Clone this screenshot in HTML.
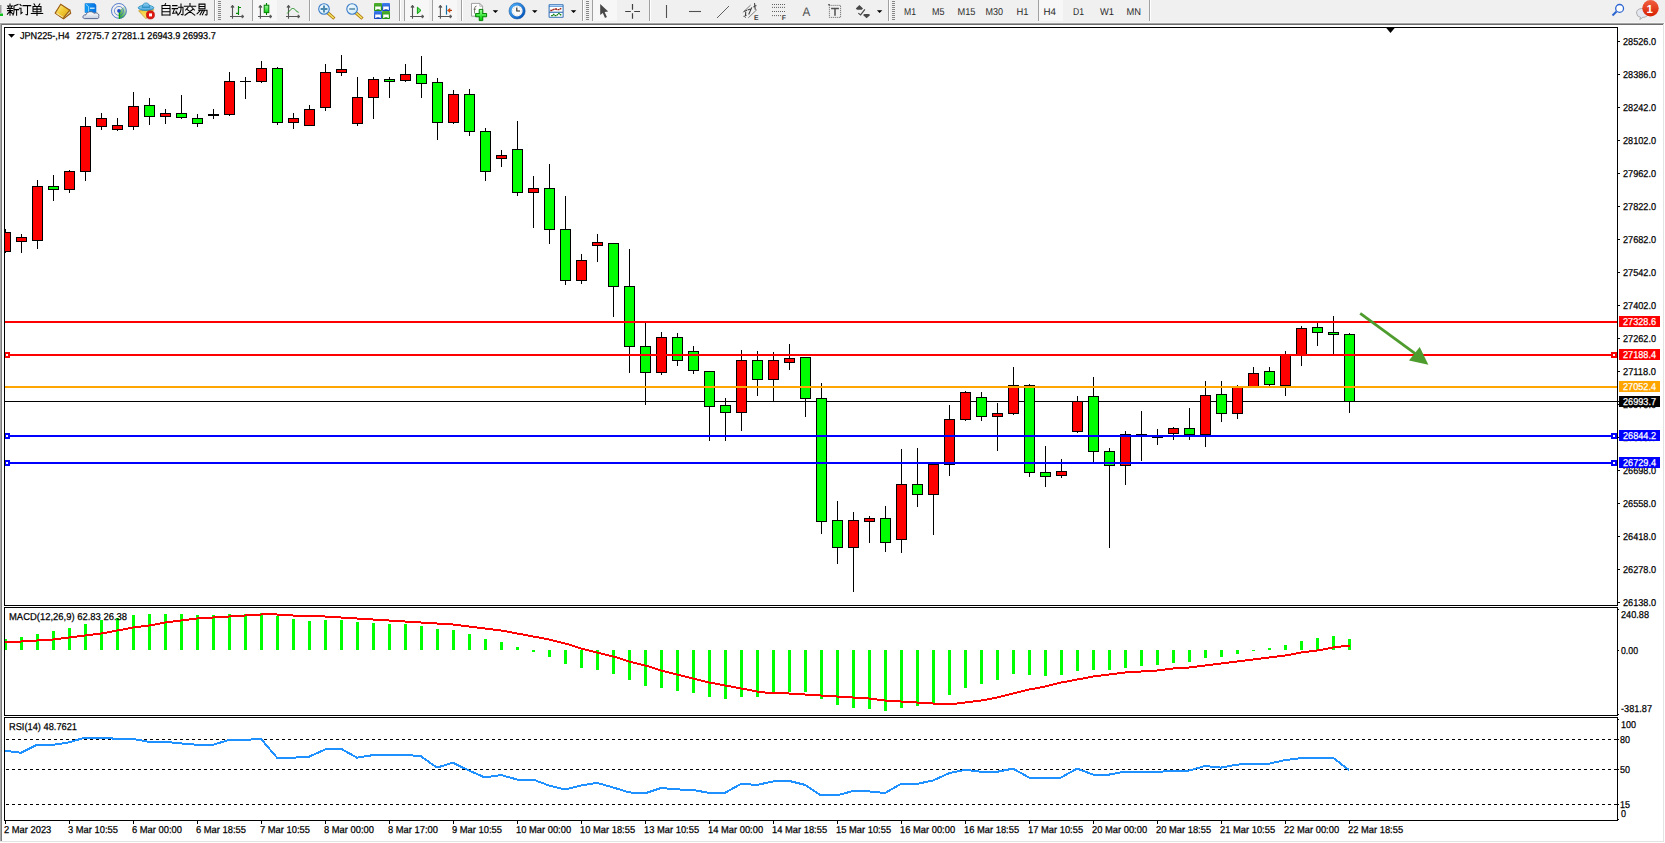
<!DOCTYPE html>
<html><head><meta charset="utf-8"><title>MT4</title>
<style>
html,body{margin:0;padding:0;background:#fff;overflow:hidden;}
svg{display:block;}
text.t{stroke-width:0.3px;}
</style></head>
<body>
<svg width="1665" height="843" viewBox="0 0 1665 843" shape-rendering="crispEdges" text-rendering="geometricPrecision">
<rect x="0" y="0" width="1665" height="23" fill="#f0f0f0"/>
<rect x="0" y="22" width="1665" height="1" fill="#f6f6f6"/>
<rect x="0" y="23" width="1664" height="1" fill="#a3a3a3"/>
<rect x="0" y="24" width="1664" height="1" fill="#6d6d6d"/>
<rect x="0" y="25" width="1665" height="818" fill="#ffffff"/>
<rect x="0" y="23" width="1" height="818" fill="#a8a8a8"/>
<rect x="1" y="24" width="1" height="817" fill="#7a7a7a"/>
<rect x="1663" y="24" width="1" height="818" fill="#e3e3e3"/>
<rect x="0" y="841" width="1664" height="1" fill="#e3e3e3"/>
<defs><clipPath id="cm"><rect x="5" y="28" width="1612" height="577"/></clipPath><clipPath id="cmacd"><rect x="5" y="608" width="1612" height="107"/></clipPath><clipPath id="crsi"><rect x="5" y="718" width="1612" height="102"/></clipPath></defs>
<g clip-path="url(#cm)">
</g>
<rect x="5" y="401" width="1614" height="1" fill="#000"/>
<g clip-path="url(#cm)">
<rect x="5" y="229" width="1" height="24" fill="#000"/>
<rect x="0" y="232" width="11" height="20" fill="#000"/>
<rect x="1" y="233" width="9" height="18" fill="#ff0000"/>
<rect x="21" y="234" width="1" height="19" fill="#000"/>
<rect x="16" y="237" width="11" height="5" fill="#000"/>
<rect x="17" y="238" width="9" height="3" fill="#ff0000"/>
<rect x="37" y="180" width="1" height="69" fill="#000"/>
<rect x="32" y="186" width="11" height="55" fill="#000"/>
<rect x="33" y="187" width="9" height="53" fill="#ff0000"/>
<rect x="53" y="175" width="1" height="26" fill="#000"/>
<rect x="48" y="186" width="11" height="4" fill="#000"/>
<rect x="49" y="187" width="9" height="2" fill="#00ff00"/>
<rect x="69" y="170" width="1" height="23" fill="#000"/>
<rect x="64" y="171" width="11" height="19" fill="#000"/>
<rect x="65" y="172" width="9" height="17" fill="#ff0000"/>
<rect x="85" y="117" width="1" height="64" fill="#000"/>
<rect x="80" y="126" width="11" height="46" fill="#000"/>
<rect x="81" y="127" width="9" height="44" fill="#ff0000"/>
<rect x="101" y="113" width="1" height="17" fill="#000"/>
<rect x="96" y="118" width="11" height="9" fill="#000"/>
<rect x="97" y="119" width="9" height="7" fill="#ff0000"/>
<rect x="117" y="118" width="1" height="13" fill="#000"/>
<rect x="112" y="125" width="11" height="5" fill="#000"/>
<rect x="113" y="126" width="9" height="3" fill="#ff0000"/>
<rect x="133" y="92" width="1" height="38" fill="#000"/>
<rect x="128" y="106" width="11" height="21" fill="#000"/>
<rect x="129" y="107" width="9" height="19" fill="#ff0000"/>
<rect x="149" y="98" width="1" height="27" fill="#000"/>
<rect x="144" y="105" width="11" height="12" fill="#000"/>
<rect x="145" y="106" width="9" height="10" fill="#00ff00"/>
<rect x="165" y="109" width="1" height="15" fill="#000"/>
<rect x="160" y="113" width="11" height="4" fill="#000"/>
<rect x="161" y="114" width="9" height="2" fill="#ff0000"/>
<rect x="181" y="95" width="1" height="24" fill="#000"/>
<rect x="176" y="113" width="11" height="5" fill="#000"/>
<rect x="177" y="114" width="9" height="3" fill="#00ff00"/>
<rect x="197" y="114" width="1" height="13" fill="#000"/>
<rect x="192" y="118" width="11" height="6" fill="#000"/>
<rect x="193" y="119" width="9" height="4" fill="#00ff00"/>
<rect x="213" y="109" width="1" height="10" fill="#000"/>
<rect x="208" y="114" width="11" height="2" fill="#000"/>
<rect x="229" y="72" width="1" height="44" fill="#000"/>
<rect x="224" y="81" width="11" height="34" fill="#000"/>
<rect x="225" y="82" width="9" height="32" fill="#ff0000"/>
<rect x="245" y="77" width="1" height="22" fill="#000"/>
<rect x="240" y="81" width="11" height="1" fill="#000"/>
<rect x="261" y="61" width="1" height="22" fill="#000"/>
<rect x="256" y="68" width="11" height="14" fill="#000"/>
<rect x="257" y="69" width="9" height="12" fill="#ff0000"/>
<rect x="277" y="67" width="1" height="58" fill="#000"/>
<rect x="272" y="68" width="11" height="55" fill="#000"/>
<rect x="273" y="69" width="9" height="53" fill="#00ff00"/>
<rect x="293" y="113" width="1" height="16" fill="#000"/>
<rect x="288" y="118" width="11" height="5" fill="#000"/>
<rect x="289" y="119" width="9" height="3" fill="#ff0000"/>
<rect x="309" y="105" width="1" height="21" fill="#000"/>
<rect x="304" y="109" width="11" height="17" fill="#000"/>
<rect x="305" y="110" width="9" height="15" fill="#ff0000"/>
<rect x="325" y="64" width="1" height="47" fill="#000"/>
<rect x="320" y="72" width="11" height="36" fill="#000"/>
<rect x="321" y="73" width="9" height="34" fill="#ff0000"/>
<rect x="341" y="55" width="1" height="21" fill="#000"/>
<rect x="336" y="69" width="11" height="4" fill="#000"/>
<rect x="337" y="70" width="9" height="2" fill="#ff0000"/>
<rect x="357" y="77" width="1" height="49" fill="#000"/>
<rect x="352" y="97" width="11" height="27" fill="#000"/>
<rect x="353" y="98" width="9" height="25" fill="#ff0000"/>
<rect x="373" y="77" width="1" height="42" fill="#000"/>
<rect x="368" y="79" width="11" height="19" fill="#000"/>
<rect x="369" y="80" width="9" height="17" fill="#ff0000"/>
<rect x="389" y="77" width="1" height="21" fill="#000"/>
<rect x="384" y="79" width="11" height="3" fill="#000"/>
<rect x="385" y="80" width="9" height="1" fill="#00ff00"/>
<rect x="405" y="64" width="1" height="18" fill="#000"/>
<rect x="400" y="74" width="11" height="7" fill="#000"/>
<rect x="401" y="75" width="9" height="5" fill="#ff0000"/>
<rect x="421" y="56" width="1" height="42" fill="#000"/>
<rect x="416" y="74" width="11" height="10" fill="#000"/>
<rect x="417" y="75" width="9" height="8" fill="#00ff00"/>
<rect x="437" y="78" width="1" height="62" fill="#000"/>
<rect x="432" y="82" width="11" height="41" fill="#000"/>
<rect x="433" y="83" width="9" height="39" fill="#00ff00"/>
<rect x="453" y="90" width="1" height="34" fill="#000"/>
<rect x="448" y="94" width="11" height="29" fill="#000"/>
<rect x="449" y="95" width="9" height="27" fill="#ff0000"/>
<rect x="469" y="89" width="1" height="47" fill="#000"/>
<rect x="464" y="94" width="11" height="38" fill="#000"/>
<rect x="465" y="95" width="9" height="36" fill="#00ff00"/>
<rect x="485" y="128" width="1" height="53" fill="#000"/>
<rect x="480" y="131" width="11" height="41" fill="#000"/>
<rect x="481" y="132" width="9" height="39" fill="#00ff00"/>
<rect x="501" y="150" width="1" height="17" fill="#000"/>
<rect x="496" y="155" width="11" height="4" fill="#000"/>
<rect x="497" y="156" width="9" height="2" fill="#ff0000"/>
<rect x="517" y="121" width="1" height="75" fill="#000"/>
<rect x="512" y="149" width="11" height="44" fill="#000"/>
<rect x="513" y="150" width="9" height="42" fill="#00ff00"/>
<rect x="533" y="176" width="1" height="52" fill="#000"/>
<rect x="528" y="188" width="11" height="5" fill="#000"/>
<rect x="529" y="189" width="9" height="3" fill="#ff0000"/>
<rect x="549" y="164" width="1" height="80" fill="#000"/>
<rect x="544" y="188" width="11" height="42" fill="#000"/>
<rect x="545" y="189" width="9" height="40" fill="#00ff00"/>
<rect x="565" y="196" width="1" height="89" fill="#000"/>
<rect x="560" y="229" width="11" height="52" fill="#000"/>
<rect x="561" y="230" width="9" height="50" fill="#00ff00"/>
<rect x="581" y="254" width="1" height="30" fill="#000"/>
<rect x="576" y="260" width="11" height="21" fill="#000"/>
<rect x="577" y="261" width="9" height="19" fill="#ff0000"/>
<rect x="597" y="234" width="1" height="28" fill="#000"/>
<rect x="592" y="242" width="11" height="4" fill="#000"/>
<rect x="593" y="243" width="9" height="2" fill="#ff0000"/>
<rect x="613" y="243" width="1" height="74" fill="#000"/>
<rect x="608" y="243" width="11" height="44" fill="#000"/>
<rect x="609" y="244" width="9" height="42" fill="#00ff00"/>
<rect x="629" y="249" width="1" height="124" fill="#000"/>
<rect x="624" y="286" width="11" height="61" fill="#000"/>
<rect x="625" y="287" width="9" height="59" fill="#00ff00"/>
<rect x="645" y="323" width="1" height="82" fill="#000"/>
<rect x="640" y="346" width="11" height="27" fill="#000"/>
<rect x="641" y="347" width="9" height="25" fill="#00ff00"/>
<rect x="661" y="332" width="1" height="43" fill="#000"/>
<rect x="656" y="337" width="11" height="36" fill="#000"/>
<rect x="657" y="338" width="9" height="34" fill="#ff0000"/>
<rect x="677" y="333" width="1" height="33" fill="#000"/>
<rect x="672" y="337" width="11" height="24" fill="#000"/>
<rect x="673" y="338" width="9" height="22" fill="#00ff00"/>
<rect x="693" y="346" width="1" height="28" fill="#000"/>
<rect x="688" y="351" width="11" height="20" fill="#000"/>
<rect x="689" y="352" width="9" height="18" fill="#00ff00"/>
<rect x="709" y="372" width="1" height="69" fill="#000"/>
<rect x="704" y="371" width="11" height="36" fill="#000"/>
<rect x="705" y="372" width="9" height="34" fill="#00ff00"/>
<rect x="725" y="398" width="1" height="43" fill="#000"/>
<rect x="720" y="405" width="11" height="8" fill="#000"/>
<rect x="721" y="406" width="9" height="6" fill="#00ff00"/>
<rect x="741" y="350" width="1" height="81" fill="#000"/>
<rect x="736" y="360" width="11" height="53" fill="#000"/>
<rect x="737" y="361" width="9" height="51" fill="#ff0000"/>
<rect x="757" y="351" width="1" height="45" fill="#000"/>
<rect x="752" y="360" width="11" height="20" fill="#000"/>
<rect x="753" y="361" width="9" height="18" fill="#00ff00"/>
<rect x="773" y="352" width="1" height="49" fill="#000"/>
<rect x="768" y="360" width="11" height="20" fill="#000"/>
<rect x="769" y="361" width="9" height="18" fill="#ff0000"/>
<rect x="789" y="344" width="1" height="26" fill="#000"/>
<rect x="784" y="358" width="11" height="5" fill="#000"/>
<rect x="785" y="359" width="9" height="3" fill="#ff0000"/>
<rect x="805" y="357" width="1" height="60" fill="#000"/>
<rect x="800" y="357" width="11" height="42" fill="#000"/>
<rect x="801" y="358" width="9" height="40" fill="#00ff00"/>
<rect x="821" y="383" width="1" height="151" fill="#000"/>
<rect x="816" y="398" width="11" height="124" fill="#000"/>
<rect x="817" y="399" width="9" height="122" fill="#00ff00"/>
<rect x="837" y="501" width="1" height="63" fill="#000"/>
<rect x="832" y="520" width="11" height="28" fill="#000"/>
<rect x="833" y="521" width="9" height="26" fill="#00ff00"/>
<rect x="853" y="512" width="1" height="80" fill="#000"/>
<rect x="848" y="520" width="11" height="28" fill="#000"/>
<rect x="849" y="521" width="9" height="26" fill="#ff0000"/>
<rect x="869" y="516" width="1" height="27" fill="#000"/>
<rect x="864" y="518" width="11" height="4" fill="#000"/>
<rect x="865" y="519" width="9" height="2" fill="#ff0000"/>
<rect x="885" y="506" width="1" height="46" fill="#000"/>
<rect x="880" y="518" width="11" height="25" fill="#000"/>
<rect x="881" y="519" width="9" height="23" fill="#00ff00"/>
<rect x="901" y="449" width="1" height="104" fill="#000"/>
<rect x="896" y="484" width="11" height="56" fill="#000"/>
<rect x="897" y="485" width="9" height="54" fill="#ff0000"/>
<rect x="917" y="448" width="1" height="59" fill="#000"/>
<rect x="912" y="484" width="11" height="11" fill="#000"/>
<rect x="913" y="485" width="9" height="9" fill="#00ff00"/>
<rect x="933" y="464" width="1" height="71" fill="#000"/>
<rect x="928" y="464" width="11" height="31" fill="#000"/>
<rect x="929" y="465" width="9" height="29" fill="#ff0000"/>
<rect x="949" y="405" width="1" height="71" fill="#000"/>
<rect x="944" y="419" width="11" height="46" fill="#000"/>
<rect x="945" y="420" width="9" height="44" fill="#ff0000"/>
<rect x="965" y="391" width="1" height="30" fill="#000"/>
<rect x="960" y="392" width="11" height="28" fill="#000"/>
<rect x="961" y="393" width="9" height="26" fill="#ff0000"/>
<rect x="981" y="392" width="1" height="29" fill="#000"/>
<rect x="976" y="397" width="11" height="20" fill="#000"/>
<rect x="977" y="398" width="9" height="18" fill="#00ff00"/>
<rect x="997" y="403" width="1" height="48" fill="#000"/>
<rect x="992" y="413" width="11" height="4" fill="#000"/>
<rect x="993" y="414" width="9" height="2" fill="#ff0000"/>
<rect x="1013" y="367" width="1" height="48" fill="#000"/>
<rect x="1008" y="385" width="11" height="29" fill="#000"/>
<rect x="1009" y="386" width="9" height="27" fill="#ff0000"/>
<rect x="1029" y="384" width="1" height="93" fill="#000"/>
<rect x="1024" y="385" width="11" height="88" fill="#000"/>
<rect x="1025" y="386" width="9" height="86" fill="#00ff00"/>
<rect x="1045" y="446" width="1" height="41" fill="#000"/>
<rect x="1040" y="472" width="11" height="5" fill="#000"/>
<rect x="1041" y="473" width="9" height="3" fill="#00ff00"/>
<rect x="1061" y="459" width="1" height="19" fill="#000"/>
<rect x="1056" y="471" width="11" height="5" fill="#000"/>
<rect x="1057" y="472" width="9" height="3" fill="#ff0000"/>
<rect x="1077" y="396" width="1" height="37" fill="#000"/>
<rect x="1072" y="401" width="11" height="31" fill="#000"/>
<rect x="1073" y="402" width="9" height="29" fill="#ff0000"/>
<rect x="1093" y="377" width="1" height="85" fill="#000"/>
<rect x="1088" y="396" width="11" height="56" fill="#000"/>
<rect x="1089" y="397" width="9" height="54" fill="#00ff00"/>
<rect x="1109" y="448" width="1" height="100" fill="#000"/>
<rect x="1104" y="451" width="11" height="15" fill="#000"/>
<rect x="1105" y="452" width="9" height="13" fill="#00ff00"/>
<rect x="1125" y="431" width="1" height="54" fill="#000"/>
<rect x="1120" y="434" width="11" height="32" fill="#000"/>
<rect x="1121" y="435" width="9" height="30" fill="#ff0000"/>
<rect x="1141" y="411" width="1" height="50" fill="#000"/>
<rect x="1136" y="434" width="11" height="1" fill="#000"/>
<rect x="1157" y="429" width="1" height="16" fill="#000"/>
<rect x="1152" y="437" width="11" height="1" fill="#000"/>
<rect x="1173" y="427" width="1" height="13" fill="#000"/>
<rect x="1168" y="428" width="11" height="6" fill="#000"/>
<rect x="1169" y="429" width="9" height="4" fill="#ff0000"/>
<rect x="1189" y="408" width="1" height="32" fill="#000"/>
<rect x="1184" y="428" width="11" height="7" fill="#000"/>
<rect x="1185" y="429" width="9" height="5" fill="#00ff00"/>
<rect x="1205" y="381" width="1" height="66" fill="#000"/>
<rect x="1200" y="395" width="11" height="40" fill="#000"/>
<rect x="1201" y="396" width="9" height="38" fill="#ff0000"/>
<rect x="1221" y="381" width="1" height="41" fill="#000"/>
<rect x="1216" y="394" width="11" height="20" fill="#000"/>
<rect x="1217" y="395" width="9" height="18" fill="#00ff00"/>
<rect x="1237" y="385" width="1" height="34" fill="#000"/>
<rect x="1232" y="387" width="11" height="27" fill="#000"/>
<rect x="1233" y="388" width="9" height="25" fill="#ff0000"/>
<rect x="1253" y="367" width="1" height="19" fill="#000"/>
<rect x="1248" y="373" width="11" height="14" fill="#000"/>
<rect x="1249" y="374" width="9" height="12" fill="#ff0000"/>
<rect x="1269" y="367" width="1" height="19" fill="#000"/>
<rect x="1264" y="371" width="11" height="14" fill="#000"/>
<rect x="1265" y="372" width="9" height="12" fill="#00ff00"/>
<rect x="1285" y="351" width="1" height="45" fill="#000"/>
<rect x="1280" y="355" width="11" height="31" fill="#000"/>
<rect x="1281" y="356" width="9" height="29" fill="#ff0000"/>
<rect x="1301" y="326" width="1" height="40" fill="#000"/>
<rect x="1296" y="328" width="11" height="27" fill="#000"/>
<rect x="1297" y="329" width="9" height="25" fill="#ff0000"/>
<rect x="1317" y="323" width="1" height="23" fill="#000"/>
<rect x="1312" y="327" width="11" height="6" fill="#000"/>
<rect x="1313" y="328" width="9" height="4" fill="#00ff00"/>
<rect x="1333" y="316" width="1" height="38" fill="#000"/>
<rect x="1328" y="332" width="11" height="3" fill="#000"/>
<rect x="1329" y="333" width="9" height="1" fill="#00ff00"/>
<rect x="1349" y="333" width="1" height="80" fill="#000"/>
<rect x="1344" y="334" width="11" height="68" fill="#000"/>
<rect x="1345" y="335" width="9" height="66" fill="#00ff00"/>
</g>
<g clip-path="url(#cm)">
<rect x="5" y="321" width="1612" height="2" fill="#ff0000"/>
<rect x="5" y="354" width="1612" height="2" fill="#ff0000"/>
<rect x="5" y="386" width="1612" height="2" fill="#ffa500"/>
<rect x="5" y="435" width="1612" height="2" fill="#0000ff"/>
<rect x="5" y="462" width="1612" height="2" fill="#0000ff"/>
</g>
<rect x="4" y="352" width="6" height="6" fill="#ff0000"/>
<rect x="6" y="354" width="2" height="2" fill="#fff"/>
<rect x="1611" y="352" width="6" height="6" fill="#ff0000"/>
<rect x="1613" y="354" width="2" height="2" fill="#fff"/>
<rect x="4" y="433" width="6" height="6" fill="#0000ff"/>
<rect x="6" y="435" width="2" height="2" fill="#fff"/>
<rect x="1611" y="433" width="6" height="6" fill="#0000ff"/>
<rect x="1613" y="435" width="2" height="2" fill="#fff"/>
<rect x="4" y="460" width="6" height="6" fill="#0000ff"/>
<rect x="6" y="462" width="2" height="2" fill="#fff"/>
<rect x="1611" y="460" width="6" height="6" fill="#0000ff"/>
<rect x="1613" y="462" width="2" height="2" fill="#fff"/>
<g shape-rendering="geometricPrecision">
<line x1="1360.2" y1="313.4" x2="1418" y2="355.6" stroke="#4e9c2e" stroke-width="2.8"/>
<polygon points="1419.7,347 1409,360.6 1428.4,364.8" fill="#4e9c2e"/>
</g>
<polygon points="1385.5,27 1395.5,27 1390.5,33" fill="#000" shape-rendering="geometricPrecision"/>
<rect x="4" y="27" width="1614" height="1" fill="#000"/>
<rect x="4" y="605" width="1614" height="1" fill="#000"/>
<rect x="4" y="27" width="1" height="579" fill="#000"/>
<rect x="1617" y="27" width="1" height="579" fill="#000"/>
<rect x="1617" y="401" width="2" height="1" fill="#000"/>
<polygon points="8,34 15,34 11.5,37.8" fill="#000" shape-rendering="geometricPrecision"/>
<text x="20" y="39.2" font-family='"Liberation Sans", sans-serif' font-size="10" fill="#000" stroke="#000" stroke-width="0.25" textLength="49.5" lengthAdjust="spacingAndGlyphs">JPN225-,H4</text>
<text x="76.3" y="39.2" font-family='"Liberation Sans", sans-serif' font-size="10" fill="#000" stroke="#000" stroke-width="0.25" textLength="139.5" lengthAdjust="spacingAndGlyphs">27275.7 27281.1 26943.9 26993.7</text>
<rect x="1618" y="41" width="2" height="1" fill="#000"/>
<text x="1623" y="45.0" font-family='"Liberation Sans", sans-serif' font-size="10" fill="#000" stroke="#000" stroke-width="0.25" textLength="33" lengthAdjust="spacingAndGlyphs">28526.0</text>
<rect x="1618" y="74" width="2" height="1" fill="#000"/>
<text x="1623" y="78.0" font-family='"Liberation Sans", sans-serif' font-size="10" fill="#000" stroke="#000" stroke-width="0.25" textLength="33" lengthAdjust="spacingAndGlyphs">28386.0</text>
<rect x="1618" y="107" width="2" height="1" fill="#000"/>
<text x="1623" y="111.0" font-family='"Liberation Sans", sans-serif' font-size="10" fill="#000" stroke="#000" stroke-width="0.25" textLength="33" lengthAdjust="spacingAndGlyphs">28242.0</text>
<rect x="1618" y="140" width="2" height="1" fill="#000"/>
<text x="1623" y="144.0" font-family='"Liberation Sans", sans-serif' font-size="10" fill="#000" stroke="#000" stroke-width="0.25" textLength="33" lengthAdjust="spacingAndGlyphs">28102.0</text>
<rect x="1618" y="173" width="2" height="1" fill="#000"/>
<text x="1623" y="177.0" font-family='"Liberation Sans", sans-serif' font-size="10" fill="#000" stroke="#000" stroke-width="0.25" textLength="33" lengthAdjust="spacingAndGlyphs">27962.0</text>
<rect x="1618" y="206" width="2" height="1" fill="#000"/>
<text x="1623" y="210.0" font-family='"Liberation Sans", sans-serif' font-size="10" fill="#000" stroke="#000" stroke-width="0.25" textLength="33" lengthAdjust="spacingAndGlyphs">27822.0</text>
<rect x="1618" y="239" width="2" height="1" fill="#000"/>
<text x="1623" y="243.0" font-family='"Liberation Sans", sans-serif' font-size="10" fill="#000" stroke="#000" stroke-width="0.25" textLength="33" lengthAdjust="spacingAndGlyphs">27682.0</text>
<rect x="1618" y="272" width="2" height="1" fill="#000"/>
<text x="1623" y="276.0" font-family='"Liberation Sans", sans-serif' font-size="10" fill="#000" stroke="#000" stroke-width="0.25" textLength="33" lengthAdjust="spacingAndGlyphs">27542.0</text>
<rect x="1618" y="305" width="2" height="1" fill="#000"/>
<text x="1623" y="309.0" font-family='"Liberation Sans", sans-serif' font-size="10" fill="#000" stroke="#000" stroke-width="0.25" textLength="33" lengthAdjust="spacingAndGlyphs">27402.0</text>
<rect x="1618" y="338" width="2" height="1" fill="#000"/>
<text x="1623" y="342.0" font-family='"Liberation Sans", sans-serif' font-size="10" fill="#000" stroke="#000" stroke-width="0.25" textLength="33" lengthAdjust="spacingAndGlyphs">27262.0</text>
<rect x="1618" y="371" width="2" height="1" fill="#000"/>
<text x="1623" y="375.0" font-family='"Liberation Sans", sans-serif' font-size="10" fill="#000" stroke="#000" stroke-width="0.25" textLength="33" lengthAdjust="spacingAndGlyphs">27118.0</text>
<rect x="1618" y="404" width="2" height="1" fill="#000"/>
<text x="1623" y="408.0" font-family='"Liberation Sans", sans-serif' font-size="10" fill="#000" stroke="#000" stroke-width="0.25" textLength="33" lengthAdjust="spacingAndGlyphs">26978.0</text>
<rect x="1618" y="437" width="2" height="1" fill="#000"/>
<text x="1623" y="441.0" font-family='"Liberation Sans", sans-serif' font-size="10" fill="#000" stroke="#000" stroke-width="0.25" textLength="33" lengthAdjust="spacingAndGlyphs">26838.0</text>
<rect x="1618" y="470" width="2" height="1" fill="#000"/>
<text x="1623" y="474.0" font-family='"Liberation Sans", sans-serif' font-size="10" fill="#000" stroke="#000" stroke-width="0.25" textLength="33" lengthAdjust="spacingAndGlyphs">26698.0</text>
<rect x="1618" y="503" width="2" height="1" fill="#000"/>
<text x="1623" y="507.0" font-family='"Liberation Sans", sans-serif' font-size="10" fill="#000" stroke="#000" stroke-width="0.25" textLength="33" lengthAdjust="spacingAndGlyphs">26558.0</text>
<rect x="1618" y="536" width="2" height="1" fill="#000"/>
<text x="1623" y="540.0" font-family='"Liberation Sans", sans-serif' font-size="10" fill="#000" stroke="#000" stroke-width="0.25" textLength="33" lengthAdjust="spacingAndGlyphs">26418.0</text>
<rect x="1618" y="569" width="2" height="1" fill="#000"/>
<text x="1623" y="573.0" font-family='"Liberation Sans", sans-serif' font-size="10" fill="#000" stroke="#000" stroke-width="0.25" textLength="33" lengthAdjust="spacingAndGlyphs">26278.0</text>
<rect x="1618" y="602" width="2" height="1" fill="#000"/>
<text x="1623" y="606.0" font-family='"Liberation Sans", sans-serif' font-size="10" fill="#000" stroke="#000" stroke-width="0.25" textLength="33" lengthAdjust="spacingAndGlyphs">26138.0</text>
<rect x="1619" y="316" width="41" height="11" fill="#ff0000"/>
<text x="1623" y="325.0" font-family='"Liberation Sans", sans-serif' font-size="10" fill="#fff" stroke="#fff" stroke-width="0.25" textLength="33" lengthAdjust="spacingAndGlyphs">27328.6</text>
<rect x="1619" y="349" width="41" height="11" fill="#ff0000"/>
<text x="1623" y="358.0" font-family='"Liberation Sans", sans-serif' font-size="10" fill="#fff" stroke="#fff" stroke-width="0.25" textLength="33" lengthAdjust="spacingAndGlyphs">27188.4</text>
<rect x="1619" y="381" width="41" height="11" fill="#ffa500"/>
<text x="1623" y="390.0" font-family='"Liberation Sans", sans-serif' font-size="10" fill="#fff" stroke="#fff" stroke-width="0.25" textLength="33" lengthAdjust="spacingAndGlyphs">27052.4</text>
<rect x="1619" y="396" width="41" height="11" fill="#000000"/>
<text x="1623" y="405.0" font-family='"Liberation Sans", sans-serif' font-size="10" fill="#fff" stroke="#fff" stroke-width="0.25" textLength="33" lengthAdjust="spacingAndGlyphs">26993.7</text>
<rect x="1619" y="430" width="41" height="11" fill="#0000ff"/>
<text x="1623" y="439.0" font-family='"Liberation Sans", sans-serif' font-size="10" fill="#fff" stroke="#fff" stroke-width="0.25" textLength="33" lengthAdjust="spacingAndGlyphs">26844.2</text>
<rect x="1619" y="457" width="41" height="11" fill="#0000ff"/>
<text x="1623" y="466.0" font-family='"Liberation Sans", sans-serif' font-size="10" fill="#fff" stroke="#fff" stroke-width="0.25" textLength="33" lengthAdjust="spacingAndGlyphs">26729.4</text>
<rect x="4" y="607" width="1614" height="1" fill="#000"/>
<rect x="4" y="715" width="1614" height="1" fill="#000"/>
<rect x="4" y="607" width="1" height="109" fill="#000"/>
<rect x="1617" y="607" width="1" height="109" fill="#000"/>
<g clip-path="url(#cmacd)">
<rect x="4" y="639" width="3" height="11" fill="#00ff00"/>
<rect x="20" y="637" width="3" height="13" fill="#00ff00"/>
<rect x="36" y="634" width="3" height="16" fill="#00ff00"/>
<rect x="52" y="631" width="3" height="19" fill="#00ff00"/>
<rect x="68" y="628" width="3" height="22" fill="#00ff00"/>
<rect x="84" y="624" width="3" height="26" fill="#00ff00"/>
<rect x="100" y="620" width="3" height="30" fill="#00ff00"/>
<rect x="116" y="618" width="3" height="32" fill="#00ff00"/>
<rect x="132" y="615" width="3" height="35" fill="#00ff00"/>
<rect x="148" y="614" width="3" height="36" fill="#00ff00"/>
<rect x="164" y="614" width="3" height="36" fill="#00ff00"/>
<rect x="180" y="614" width="3" height="36" fill="#00ff00"/>
<rect x="196" y="615" width="3" height="35" fill="#00ff00"/>
<rect x="212" y="615" width="3" height="35" fill="#00ff00"/>
<rect x="228" y="614" width="3" height="36" fill="#00ff00"/>
<rect x="244" y="614" width="3" height="36" fill="#00ff00"/>
<rect x="260" y="613" width="3" height="37" fill="#00ff00"/>
<rect x="276" y="616" width="3" height="34" fill="#00ff00"/>
<rect x="292" y="619" width="3" height="31" fill="#00ff00"/>
<rect x="308" y="621" width="3" height="29" fill="#00ff00"/>
<rect x="324" y="620" width="3" height="30" fill="#00ff00"/>
<rect x="340" y="620" width="3" height="30" fill="#00ff00"/>
<rect x="356" y="622" width="3" height="28" fill="#00ff00"/>
<rect x="372" y="623" width="3" height="27" fill="#00ff00"/>
<rect x="388" y="624" width="3" height="26" fill="#00ff00"/>
<rect x="404" y="624" width="3" height="26" fill="#00ff00"/>
<rect x="420" y="626" width="3" height="24" fill="#00ff00"/>
<rect x="436" y="629" width="3" height="21" fill="#00ff00"/>
<rect x="452" y="630" width="3" height="20" fill="#00ff00"/>
<rect x="468" y="634" width="3" height="16" fill="#00ff00"/>
<rect x="484" y="639" width="3" height="11" fill="#00ff00"/>
<rect x="500" y="642" width="3" height="8" fill="#00ff00"/>
<rect x="516" y="647" width="3" height="3" fill="#00ff00"/>
<rect x="532" y="650" width="3" height="2" fill="#00ff00"/>
<rect x="548" y="650" width="3" height="7" fill="#00ff00"/>
<rect x="564" y="650" width="3" height="14" fill="#00ff00"/>
<rect x="580" y="650" width="3" height="18" fill="#00ff00"/>
<rect x="596" y="650" width="3" height="20" fill="#00ff00"/>
<rect x="612" y="650" width="3" height="24" fill="#00ff00"/>
<rect x="628" y="650" width="3" height="30" fill="#00ff00"/>
<rect x="644" y="650" width="3" height="36" fill="#00ff00"/>
<rect x="660" y="650" width="3" height="38" fill="#00ff00"/>
<rect x="676" y="650" width="3" height="41" fill="#00ff00"/>
<rect x="692" y="650" width="3" height="43" fill="#00ff00"/>
<rect x="708" y="650" width="3" height="47" fill="#00ff00"/>
<rect x="724" y="650" width="3" height="49" fill="#00ff00"/>
<rect x="740" y="650" width="3" height="47" fill="#00ff00"/>
<rect x="756" y="650" width="3" height="47" fill="#00ff00"/>
<rect x="772" y="650" width="3" height="42" fill="#00ff00"/>
<rect x="788" y="650" width="3" height="42" fill="#00ff00"/>
<rect x="804" y="650" width="3" height="42" fill="#00ff00"/>
<rect x="820" y="650" width="3" height="49" fill="#00ff00"/>
<rect x="836" y="650" width="3" height="55" fill="#00ff00"/>
<rect x="852" y="650" width="3" height="58" fill="#00ff00"/>
<rect x="868" y="650" width="3" height="59" fill="#00ff00"/>
<rect x="884" y="650" width="3" height="61" fill="#00ff00"/>
<rect x="900" y="650" width="3" height="58" fill="#00ff00"/>
<rect x="916" y="650" width="3" height="56" fill="#00ff00"/>
<rect x="932" y="650" width="3" height="53" fill="#00ff00"/>
<rect x="948" y="650" width="3" height="45" fill="#00ff00"/>
<rect x="964" y="650" width="3" height="38" fill="#00ff00"/>
<rect x="980" y="650" width="3" height="34" fill="#00ff00"/>
<rect x="996" y="650" width="3" height="30" fill="#00ff00"/>
<rect x="1012" y="650" width="3" height="24" fill="#00ff00"/>
<rect x="1028" y="650" width="3" height="25" fill="#00ff00"/>
<rect x="1044" y="650" width="3" height="26" fill="#00ff00"/>
<rect x="1060" y="650" width="3" height="25" fill="#00ff00"/>
<rect x="1076" y="650" width="3" height="21" fill="#00ff00"/>
<rect x="1092" y="650" width="3" height="20" fill="#00ff00"/>
<rect x="1108" y="650" width="3" height="20" fill="#00ff00"/>
<rect x="1124" y="650" width="3" height="18" fill="#00ff00"/>
<rect x="1140" y="650" width="3" height="16" fill="#00ff00"/>
<rect x="1156" y="650" width="3" height="15" fill="#00ff00"/>
<rect x="1172" y="650" width="3" height="13" fill="#00ff00"/>
<rect x="1188" y="650" width="3" height="12" fill="#00ff00"/>
<rect x="1204" y="650" width="3" height="8" fill="#00ff00"/>
<rect x="1220" y="650" width="3" height="7" fill="#00ff00"/>
<rect x="1236" y="650" width="3" height="4" fill="#00ff00"/>
<rect x="1252" y="650" width="3" height="1" fill="#00ff00"/>
<rect x="1268" y="648" width="3" height="2" fill="#00ff00"/>
<rect x="1284" y="645" width="3" height="5" fill="#00ff00"/>
<rect x="1300" y="641" width="3" height="9" fill="#00ff00"/>
<rect x="1316" y="638" width="3" height="12" fill="#00ff00"/>
<rect x="1332" y="636" width="3" height="14" fill="#00ff00"/>
<rect x="1348" y="639" width="3" height="11" fill="#00ff00"/>
<path d="M5,641h16v2h-16zM21,640h16v2h-16zM37,639h16v2h-16zM53,638h8v2h-8zM61,637h8v2h-8zM69,636h8v2h-8zM77,635h8v2h-8zM85,634h8v2h-8zM93,633h8v2h-8zM101,632h6v2h-6zM107,631h5v2h-5zM112,630h5v2h-5zM117,629h6v2h-6zM123,628h5v2h-5zM128,627h5v2h-5zM133,626h8v2h-8zM141,625h8v2h-8zM149,624h6v2h-6zM155,623h5v2h-5zM160,622h5v2h-5zM165,621h8v2h-8zM173,620h8v2h-8zM181,619h8v2h-8zM189,618h8v2h-8zM197,617h16v2h-16zM213,616h16v2h-16zM229,615h16v2h-16zM245,614h16v2h-16zM261,613h16v2h-16zM277,614h16v2h-16zM293,615h32v2h-32zM325,616h16v2h-16zM341,617h16v2h-16zM357,618h16v2h-16zM373,619h16v2h-16zM389,620h16v2h-16zM405,621h16v2h-16zM421,622h16v2h-16zM437,623h16v2h-16zM453,624h8v2h-8zM461,625h8v2h-8zM469,626h8v2h-8zM477,627h8v2h-8zM485,628h8v2h-8zM493,629h8v2h-8zM501,630h6v2h-6zM507,631h5v2h-5zM512,632h5v2h-5zM517,633h6v2h-6zM523,634h5v2h-5zM528,635h5v2h-5zM533,636h6v2h-6zM539,637h5v2h-5zM544,638h5v2h-5zM549,639h4v2h-4zM553,640h4v2h-4zM557,641h4v2h-4zM561,642h4v2h-4zM565,643h4v2h-4zM569,644h3v2h-3zM572,645h3v2h-3zM575,646h3v2h-3zM578,647h3v2h-3zM581,648h4v2h-4zM585,649h4v2h-4zM589,650h4v2h-4zM593,651h4v2h-4zM597,652h4v2h-4zM601,653h4v2h-4zM605,654h4v2h-4zM609,655h4v2h-4zM613,656h4v2h-4zM617,657h3v2h-3zM620,658h3v2h-3zM623,659h3v2h-3zM626,660h3v2h-3zM629,661h4v2h-4zM633,662h4v2h-4zM637,663h4v2h-4zM641,664h4v2h-4zM645,665h4v2h-4zM649,666h3v2h-3zM652,667h3v2h-3zM655,668h3v2h-3zM658,669h3v2h-3zM661,670h4v2h-4zM665,671h4v2h-4zM669,672h4v2h-4zM673,673h4v2h-4zM677,674h4v2h-4zM681,675h4v2h-4zM685,676h4v2h-4zM689,677h4v2h-4zM693,678h4v2h-4zM697,679h4v2h-4zM701,680h4v2h-4zM705,681h4v2h-4zM709,682h6v2h-6zM715,683h5v2h-5zM720,684h5v2h-5zM725,685h6v2h-6zM731,686h5v2h-5zM736,687h5v2h-5zM741,688h6v2h-6zM747,689h5v2h-5zM752,690h5v2h-5zM757,691h8v2h-8zM765,692h24v2h-24zM789,693h16v2h-16zM805,694h16v2h-16zM821,695h16v2h-16zM837,696h16v2h-16zM853,697h16v2h-16zM869,698h8v2h-8zM877,699h8v2h-8zM885,700h16v2h-16zM901,701h16v2h-16zM917,702h16v2h-16zM933,703h24v2h-24zM957,702h8v2h-8zM965,701h8v2h-8zM973,700h8v2h-8zM981,699h6v2h-6zM987,698h5v2h-5zM992,697h5v2h-5zM997,696h4v2h-4zM1001,695h4v2h-4zM1005,694h4v2h-4zM1009,693h4v2h-4zM1013,692h4v2h-4zM1017,691h4v2h-4zM1021,690h4v2h-4zM1025,689h4v2h-4zM1029,688h6v2h-6zM1035,687h5v2h-5zM1040,686h5v2h-5zM1045,685h4v2h-4zM1049,684h4v2h-4zM1053,683h4v2h-4zM1057,682h4v2h-4zM1061,681h6v2h-6zM1067,680h5v2h-5zM1072,679h5v2h-5zM1077,678h6v2h-6zM1083,677h5v2h-5zM1088,676h5v2h-5zM1093,675h8v2h-8zM1101,674h8v2h-8zM1109,673h8v2h-8zM1117,672h8v2h-8zM1125,671h16v2h-16zM1141,670h16v2h-16zM1157,669h8v2h-8zM1165,668h8v2h-8zM1173,667h16v2h-16zM1189,666h8v2h-8zM1197,665h8v2h-8zM1205,664h8v2h-8zM1213,663h8v2h-8zM1221,662h8v2h-8zM1229,661h8v2h-8zM1237,660h8v2h-8zM1245,659h8v2h-8zM1253,658h8v2h-8zM1261,657h8v2h-8zM1269,656h8v2h-8zM1277,655h8v2h-8zM1285,654h6v2h-6zM1291,653h5v2h-5zM1296,652h5v2h-5zM1301,651h8v2h-8zM1309,650h8v2h-8zM1317,649h6v2h-6zM1323,648h5v2h-5zM1328,647h5v2h-5zM1333,646h8v2h-8zM1341,645h9v2h-9z" fill="#ff0000"/>
</g>
<text x="9" y="620" font-family='"Liberation Sans", sans-serif' font-size="10" fill="#000" stroke="#000" stroke-width="0.25" textLength="118" lengthAdjust="spacingAndGlyphs">MACD(12,26,9) 62.83 26.38</text>
<rect x="1618" y="609" width="1" height="1" fill="#000"/>
<text x="1621" y="617.5" font-family='"Liberation Sans", sans-serif' font-size="10" fill="#000" stroke="#000" stroke-width="0.25" textLength="28" lengthAdjust="spacingAndGlyphs">240.88</text>
<rect x="1618" y="650" width="1" height="1" fill="#000"/>
<text x="1621" y="653.5" font-family='"Liberation Sans", sans-serif' font-size="10" fill="#000" stroke="#000" stroke-width="0.25" textLength="17" lengthAdjust="spacingAndGlyphs">0.00</text>
<rect x="1618" y="714" width="1" height="1" fill="#000"/>
<text x="1621" y="711.5" font-family='"Liberation Sans", sans-serif' font-size="10" fill="#000" stroke="#000" stroke-width="0.25" textLength="31" lengthAdjust="spacingAndGlyphs">-381.87</text>
<rect x="4" y="717" width="1614" height="1" fill="#000"/>
<rect x="4" y="820" width="1614" height="1" fill="#000"/>
<rect x="4" y="717" width="1" height="104" fill="#000"/>
<rect x="1617" y="717" width="1" height="104" fill="#000"/>
<line x1="5" y1="739.5" x2="1617" y2="739.5" stroke="#000" stroke-width="1" stroke-dasharray="3,3" stroke-dashoffset="5" shape-rendering="crispEdges"/>
<line x1="5" y1="769.5" x2="1617" y2="769.5" stroke="#000" stroke-width="1" stroke-dasharray="3,3" stroke-dashoffset="5" shape-rendering="crispEdges"/>
<line x1="5" y1="804.5" x2="1617" y2="804.5" stroke="#000" stroke-width="1" stroke-dasharray="3,3" stroke-dashoffset="5" shape-rendering="crispEdges"/>
<g clip-path="url(#crsi)">
<polyline points="5,750.8 21,752.8 37,744.8 53,744.8 69,742.4 85,737.5 101,737.5 117,738.9 133,738.9 149,741.8 165,741.8 181,743.4 197,744.8 213,744.8 229,739.9 245,739.9 261,738.9 277,757.7 293,757.7 309,756.7 325,749.5 341,748.8 357,757.7 373,755.1 389,754.7 405,754.7 421,756.3 437,767.6 453,762.7 469,770.6 485,777.5 501,775.0 517,779.5 533,779.5 549,785.5 565,789.4 581,785.5 597,782.9 613,787.4 629,792.4 645,793.4 661,788.0 677,789.4 693,790.0 709,792.8 725,792.8 741,783.9 757,784.9 773,781.5 789,780.9 805,784.9 821,795.4 837,795.4 853,791.0 869,791.4 885,793.0 901,783.9 917,783.9 933,780.5 949,773.2 965,769.8 981,771.8 997,771.8 1013,768.6 1029,777.5 1045,777.5 1061,777.5 1077,768.6 1093,774.6 1109,774.6 1125,771.6 1141,771.6 1157,771.8 1173,771.0 1189,770.6 1205,766.0 1221,767.6 1237,764.6 1253,763.7 1269,763.7 1285,760.1 1301,758.2 1317,757.7 1333,757.7 1349,770.0" fill="none" stroke="#1e90ff" stroke-width="2" stroke-linejoin="round" shape-rendering="crispEdges"/>
</g>
<text x="9" y="729.6" font-family='"Liberation Sans", sans-serif' font-size="10" fill="#000" stroke="#000" stroke-width="0.25" textLength="68" lengthAdjust="spacingAndGlyphs">RSI(14) 48.7621</text>
<text x="1621" y="728.0" font-family='"Liberation Sans", sans-serif' font-size="10" fill="#000" stroke="#000" stroke-width="0.25" textLength="15" lengthAdjust="spacingAndGlyphs">100</text>
<text x="1620" y="743.0" font-family='"Liberation Sans", sans-serif' font-size="10" fill="#000" stroke="#000" stroke-width="0.25" textLength="10" lengthAdjust="spacingAndGlyphs">80</text>
<text x="1620" y="773.0" font-family='"Liberation Sans", sans-serif' font-size="10" fill="#000" stroke="#000" stroke-width="0.25" textLength="10" lengthAdjust="spacingAndGlyphs">50</text>
<text x="1620" y="808.0" font-family='"Liberation Sans", sans-serif' font-size="10" fill="#000" stroke="#000" stroke-width="0.25" textLength="10" lengthAdjust="spacingAndGlyphs">15</text>
<text x="1621" y="817.0" font-family='"Liberation Sans", sans-serif' font-size="10" fill="#000" stroke="#000" stroke-width="0.25" textLength="5" lengthAdjust="spacingAndGlyphs">0</text>
<rect x="1618" y="719" width="1" height="1" fill="#000"/>
<rect x="1618" y="739" width="1" height="1" fill="#000"/>
<rect x="1618" y="769" width="1" height="1" fill="#000"/>
<rect x="1618" y="804" width="1" height="1" fill="#000"/>
<rect x="1618" y="819" width="1" height="1" fill="#000"/>
<rect x="5" y="821" width="1" height="3" fill="#000"/>
<text x="4" y="833" font-family='"Liberation Sans", sans-serif' font-size="10" fill="#000" stroke="#000" stroke-width="0.25" transform="translate(4,833) scale(0.935,1) translate(-4,-833)">2 Mar 2023</text>
<rect x="69" y="821" width="1" height="3" fill="#000"/>
<text x="68" y="833" font-family='"Liberation Sans", sans-serif' font-size="10" fill="#000" stroke="#000" stroke-width="0.25" transform="translate(68,833) scale(0.935,1) translate(-68,-833)">3 Mar 10:55</text>
<rect x="133" y="821" width="1" height="3" fill="#000"/>
<text x="132" y="833" font-family='"Liberation Sans", sans-serif' font-size="10" fill="#000" stroke="#000" stroke-width="0.25" transform="translate(132,833) scale(0.935,1) translate(-132,-833)">6 Mar 00:00</text>
<rect x="197" y="821" width="1" height="3" fill="#000"/>
<text x="196" y="833" font-family='"Liberation Sans", sans-serif' font-size="10" fill="#000" stroke="#000" stroke-width="0.25" transform="translate(196,833) scale(0.935,1) translate(-196,-833)">6 Mar 18:55</text>
<rect x="261" y="821" width="1" height="3" fill="#000"/>
<text x="260" y="833" font-family='"Liberation Sans", sans-serif' font-size="10" fill="#000" stroke="#000" stroke-width="0.25" transform="translate(260,833) scale(0.935,1) translate(-260,-833)">7 Mar 10:55</text>
<rect x="325" y="821" width="1" height="3" fill="#000"/>
<text x="324" y="833" font-family='"Liberation Sans", sans-serif' font-size="10" fill="#000" stroke="#000" stroke-width="0.25" transform="translate(324,833) scale(0.935,1) translate(-324,-833)">8 Mar 00:00</text>
<rect x="389" y="821" width="1" height="3" fill="#000"/>
<text x="388" y="833" font-family='"Liberation Sans", sans-serif' font-size="10" fill="#000" stroke="#000" stroke-width="0.25" transform="translate(388,833) scale(0.935,1) translate(-388,-833)">8 Mar 17:00</text>
<rect x="453" y="821" width="1" height="3" fill="#000"/>
<text x="452" y="833" font-family='"Liberation Sans", sans-serif' font-size="10" fill="#000" stroke="#000" stroke-width="0.25" transform="translate(452,833) scale(0.935,1) translate(-452,-833)">9 Mar 10:55</text>
<rect x="517" y="821" width="1" height="3" fill="#000"/>
<text x="516" y="833" font-family='"Liberation Sans", sans-serif' font-size="10" fill="#000" stroke="#000" stroke-width="0.25" transform="translate(516,833) scale(0.935,1) translate(-516,-833)">10 Mar 00:00</text>
<rect x="581" y="821" width="1" height="3" fill="#000"/>
<text x="580" y="833" font-family='"Liberation Sans", sans-serif' font-size="10" fill="#000" stroke="#000" stroke-width="0.25" transform="translate(580,833) scale(0.935,1) translate(-580,-833)">10 Mar 18:55</text>
<rect x="645" y="821" width="1" height="3" fill="#000"/>
<text x="644" y="833" font-family='"Liberation Sans", sans-serif' font-size="10" fill="#000" stroke="#000" stroke-width="0.25" transform="translate(644,833) scale(0.935,1) translate(-644,-833)">13 Mar 10:55</text>
<rect x="709" y="821" width="1" height="3" fill="#000"/>
<text x="708" y="833" font-family='"Liberation Sans", sans-serif' font-size="10" fill="#000" stroke="#000" stroke-width="0.25" transform="translate(708,833) scale(0.935,1) translate(-708,-833)">14 Mar 00:00</text>
<rect x="773" y="821" width="1" height="3" fill="#000"/>
<text x="772" y="833" font-family='"Liberation Sans", sans-serif' font-size="10" fill="#000" stroke="#000" stroke-width="0.25" transform="translate(772,833) scale(0.935,1) translate(-772,-833)">14 Mar 18:55</text>
<rect x="837" y="821" width="1" height="3" fill="#000"/>
<text x="836" y="833" font-family='"Liberation Sans", sans-serif' font-size="10" fill="#000" stroke="#000" stroke-width="0.25" transform="translate(836,833) scale(0.935,1) translate(-836,-833)">15 Mar 10:55</text>
<rect x="901" y="821" width="1" height="3" fill="#000"/>
<text x="900" y="833" font-family='"Liberation Sans", sans-serif' font-size="10" fill="#000" stroke="#000" stroke-width="0.25" transform="translate(900,833) scale(0.935,1) translate(-900,-833)">16 Mar 00:00</text>
<rect x="965" y="821" width="1" height="3" fill="#000"/>
<text x="964" y="833" font-family='"Liberation Sans", sans-serif' font-size="10" fill="#000" stroke="#000" stroke-width="0.25" transform="translate(964,833) scale(0.935,1) translate(-964,-833)">16 Mar 18:55</text>
<rect x="1029" y="821" width="1" height="3" fill="#000"/>
<text x="1028" y="833" font-family='"Liberation Sans", sans-serif' font-size="10" fill="#000" stroke="#000" stroke-width="0.25" transform="translate(1028,833) scale(0.935,1) translate(-1028,-833)">17 Mar 10:55</text>
<rect x="1093" y="821" width="1" height="3" fill="#000"/>
<text x="1092" y="833" font-family='"Liberation Sans", sans-serif' font-size="10" fill="#000" stroke="#000" stroke-width="0.25" transform="translate(1092,833) scale(0.935,1) translate(-1092,-833)">20 Mar 00:00</text>
<rect x="1157" y="821" width="1" height="3" fill="#000"/>
<text x="1156" y="833" font-family='"Liberation Sans", sans-serif' font-size="10" fill="#000" stroke="#000" stroke-width="0.25" transform="translate(1156,833) scale(0.935,1) translate(-1156,-833)">20 Mar 18:55</text>
<rect x="1221" y="821" width="1" height="3" fill="#000"/>
<text x="1220" y="833" font-family='"Liberation Sans", sans-serif' font-size="10" fill="#000" stroke="#000" stroke-width="0.25" transform="translate(1220,833) scale(0.935,1) translate(-1220,-833)">21 Mar 10:55</text>
<rect x="1285" y="821" width="1" height="3" fill="#000"/>
<text x="1284" y="833" font-family='"Liberation Sans", sans-serif' font-size="10" fill="#000" stroke="#000" stroke-width="0.25" transform="translate(1284,833) scale(0.935,1) translate(-1284,-833)">22 Mar 00:00</text>
<rect x="1349" y="821" width="1" height="3" fill="#000"/>
<text x="1348" y="833" font-family='"Liberation Sans", sans-serif' font-size="10" fill="#000" stroke="#000" stroke-width="0.25" transform="translate(1348,833) scale(0.935,1) translate(-1348,-833)">22 Mar 18:55</text>
<defs>
<linearGradient id="gBook" x1="0" y1="0" x2="1" y2="1"><stop offset="0" stop-color="#fff4a0"/><stop offset="0.5" stop-color="#f0c830"/><stop offset="1" stop-color="#d8a020"/></linearGradient>
<linearGradient id="gCloud" x1="0" y1="0" x2="0" y2="1"><stop offset="0" stop-color="#ffffff"/><stop offset="1" stop-color="#c8d0e0"/></linearGradient>
<linearGradient id="gSrv" x1="0" y1="0" x2="1" y2="0"><stop offset="0" stop-color="#10a0f8"/><stop offset="1" stop-color="#0870e0"/></linearGradient>
<linearGradient id="gRadar" x1="0" y1="1" x2="1" y2="0"><stop offset="0" stop-color="#10a010"/><stop offset="0.6" stop-color="#90c890"/><stop offset="1" stop-color="#e8f4e8" stop-opacity="0.4"/></linearGradient>
<linearGradient id="gCone" x1="0" y1="0" x2="0" y2="1"><stop offset="0" stop-color="#f0c830"/><stop offset="1" stop-color="#fff080"/></linearGradient>
<linearGradient id="gHat" x1="0" y1="0" x2="0" y2="1"><stop offset="0" stop-color="#a0d8f8"/><stop offset="1" stop-color="#40a0d8"/></linearGradient>
<linearGradient id="gCandle" x1="0" y1="0" x2="0" y2="1"><stop offset="0" stop-color="#a0f8a0"/><stop offset="1" stop-color="#10d010"/></linearGradient>
<linearGradient id="gPlus" x1="0" y1="0" x2="0" y2="1"><stop offset="0" stop-color="#90ff90"/><stop offset="1" stop-color="#00d000"/></linearGradient>
<linearGradient id="gBadge" x1="0" y1="0" x2="0" y2="1"><stop offset="0" stop-color="#f06040"/><stop offset="1" stop-color="#d82000"/></linearGradient>
<linearGradient id="gGreenQ" x1="0" y1="0" x2="0" y2="1"><stop offset="0" stop-color="#50b030"/><stop offset="1" stop-color="#209010"/></linearGradient>
<linearGradient id="gBlueQ" x1="0" y1="0" x2="0" y2="1"><stop offset="0" stop-color="#4080f0"/><stop offset="1" stop-color="#1040c0"/></linearGradient>
<linearGradient id="gClock" x1="0" y1="0" x2="1" y2="1"><stop offset="0" stop-color="#50b0f8"/><stop offset="1" stop-color="#0050b8"/></linearGradient>
<linearGradient id="gMag" x1="0" y1="0" x2="1" y2="1"><stop offset="0" stop-color="#f8fcff"/><stop offset="1" stop-color="#c8e8f8"/></linearGradient>
</defs><g shape-rendering="geometricPrecision"><rect x="0" y="13.5" width="3" height="2.5" fill="#10c020"/><rect x="0" y="5" width="1.5" height="8" fill="#a0a0a0"/><path transform="translate(7,3.6) scale(1.0)" d="M3,0.5V1.8 M0.5,2.3H5.5 M1.5,3.2L2,4.2 M4.5,3.2L4,4.2 M0.3,4.8H5.7 M0.6,7H5.4 M3,4.8V11.6 M3,7.6L0.4,10.6 M3,7.6L5.6,10.2 M11,0.8L7,2.4 M7,2.4V7.5Q7,10 6,11.5 M7,6H11.7 M9.6,6V11.7" fill="none" stroke="#000" stroke-width="1.05" stroke-linecap="square"/><path transform="translate(19,3.6) scale(1.0)" d="M1,0.8L2.2,2 M0.4,4.6H2 V10 L3.2,9 M4,2H11.7 M8.5,2V10.8Q8.5,11.6 7,11" fill="none" stroke="#000" stroke-width="1.05" stroke-linecap="square"/><path transform="translate(31,3.6) scale(1.0)" d="M3,0.3L4,1.9 M8.8,0.3L7.8,1.9 M2,2.8H10V8.2H2Z M2,5.5H10 M6,2.8V11.8 M0.3,9.8H11.7" fill="none" stroke="#000" stroke-width="1.05" stroke-linecap="square"/><path d="M69.8,10.2L70.7,13.2L63.6,18.8L55.8,13.6Z" fill="#e0d098" stroke="#9a5c10" stroke-width="1.1"/><path d="M55.3,12.9L60.7,4.2L69.8,10.2L63,18.3Z" fill="url(#gBook)" stroke="#9a5c10" stroke-width="1.1"/><path d="M56.5,13.2L63.2,17.4" stroke="#f8e8a0" stroke-width="1.1"/><path d="M85,3.5H94.5L96,5V12.5H85Z" fill="url(#gSrv)" stroke="#1878d8" stroke-width="0.6"/><path d="M85.8,4.2L88.6,6.6V12" stroke="#c8f0ff" stroke-width="0.7" fill="none"/><rect x="90" y="7.6" width="4.6" height="1.2" fill="#e0f8ff"/><path d="M84.5,18.6C82,18.4 82.4,14.6 86,14.8C86.6,11.4 92.6,10.6 93.9,13.3C96.8,12 99.6,14 98.7,16.4C99.2,18 98.2,18.6 97,18.6Z" fill="url(#gCloud)" stroke="#4a5c88" stroke-width="0.9"/><path d="M118.9,10.9V18.8A7.9,7.9 0 0,0 125,5.8Z" fill="url(#gRadar)"/><circle cx="118.9" cy="10.9" r="7.4" fill="none" stroke="#3a6ac8" stroke-width="1" stroke-opacity="0.85"/><circle cx="118.9" cy="10.9" r="4.5" fill="none" stroke="#3a6ac8" stroke-width="1" stroke-opacity="0.7"/><path d="M119.4,11V18.8" stroke="#10a010" stroke-width="1.2"/><circle cx="118.9" cy="10.9" r="1.8" fill="#2050c8"/><path d="M138.6,10.8L146,18.8L153.8,9.6Z" fill="url(#gCone)" stroke="#c09020" stroke-width="0.7"/><ellipse cx="146" cy="7.8" rx="7.8" ry="2.6" fill="url(#gHat)" stroke="#2088b8" stroke-width="0.8"/><path d="M142.2,7.4Q142.5,3 146,3Q149.5,3 149.8,7.4Z" fill="url(#gHat)" stroke="#2088b8" stroke-width="0.8"/><circle cx="150.4" cy="14.9" r="4.1" fill="#e01810" stroke="#b01008" stroke-width="0.6"/><rect x="149" y="13.4" width="3" height="3" fill="#fff"/><path transform="translate(160,3.6) scale(1.0)" d="M5.6,0L4.8,1.6 M2,1.8H10V11.6 M2,1.8V11.6 M2,4.9H10 M2,8.2H10 M2,11.3H10" fill="none" stroke="#000" stroke-width="1.05" stroke-linecap="square"/><path transform="translate(172,3.6) scale(1.0)" d="M0.6,2H5 M0.2,5H5.6 M2.6,5L0.8,9.8L5,9.2 M4,7.6L5.4,10.4 M6.4,3.6H11V10.8Q11,11.6 9.4,11 M9,0.4V6Q8.6,9.5 6,11.6" fill="none" stroke="#000" stroke-width="1.05" stroke-linecap="square"/><path transform="translate(184,3.6) scale(1.0)" d="M6,0V1.6 M0.3,2.6H11.7 M4,4L1.6,6.4 M8,4L10.4,6.4 M3.4,6L10.8,11.6 M8.6,6L1,11.6" fill="none" stroke="#000" stroke-width="1.05" stroke-linecap="square"/><path transform="translate(196,3.6) scale(1.0)" d="M3,0.5H9V5.2H3Z M3,2.85H9 M2.6,6.6H11V10.8Q11,11.6 9.4,11.2 M4.6,6.6L1,10.2 M6.6,6.6L4,11.2 M8.6,6.6L6.4,11.2" fill="none" stroke="#000" stroke-width="1.05" stroke-linecap="square"/><rect x="214" y="0" width="1" height="21" fill="#a0a0a0" shape-rendering="crispEdges"/><rect x="215" y="0" width="1" height="21" fill="#ffffff" shape-rendering="crispEdges"/><rect x="218" y="1" width="3" height="1" fill="#868686" shape-rendering="crispEdges"/><rect x="218" y="3" width="3" height="1" fill="#868686" shape-rendering="crispEdges"/><rect x="218" y="5" width="3" height="1" fill="#868686" shape-rendering="crispEdges"/><rect x="218" y="7" width="3" height="1" fill="#868686" shape-rendering="crispEdges"/><rect x="218" y="9" width="3" height="1" fill="#868686" shape-rendering="crispEdges"/><rect x="218" y="11" width="3" height="1" fill="#868686" shape-rendering="crispEdges"/><rect x="218" y="13" width="3" height="1" fill="#868686" shape-rendering="crispEdges"/><rect x="218" y="15" width="3" height="1" fill="#868686" shape-rendering="crispEdges"/><rect x="218" y="17" width="3" height="1" fill="#868686" shape-rendering="crispEdges"/><rect x="218" y="19" width="3" height="1" fill="#868686" shape-rendering="crispEdges"/><path d="M232.5,5.2V18.8 M230,16.5H243.5" stroke="#555" stroke-width="1.1" fill="none"/><path d="M230.9,7.2L232.5,5.2L234.1,7.2Z M242,14.9L244,16.5L242,18.1Z" stroke="#555" stroke-width="0.8" fill="#555"/><path d="M238.5,6V15 M238.5,7.5H241 M236,13.3H238.5" stroke="#0a8a0a" stroke-width="1.15" fill="none"/><rect x="252" y="0" width="1" height="21" fill="#a0a0a0" shape-rendering="crispEdges"/><rect x="253" y="0" width="1" height="21" fill="#ffffff" shape-rendering="crispEdges"/><rect x="253" y="0" width="24" height="21" fill="#f7f7f7" shape-rendering="crispEdges"/><path d="M260.4,5.2V18.8 M258,16.5H271.5" stroke="#555" stroke-width="1.1" fill="none"/><path d="M258.79999999999995,7.2L260.4,5.2L262.0,7.2Z M270,14.9L272,16.5L270,18.1Z" stroke="#555" stroke-width="0.8" fill="#555"/><path d="M266.5,3V15" stroke="#008000" stroke-width="1.1"/><rect x="264.2" y="5.2" width="4.6" height="7.4" fill="url(#gCandle)" stroke="#008000" stroke-width="1"/><path d="M288.5,5.2V18.8 M286,16.5H299.5" stroke="#555" stroke-width="1.1" fill="none"/><path d="M286.9,7.2L288.5,5.2L290.1,7.2Z M298,14.9L300,16.5L298,18.1Z" stroke="#555" stroke-width="0.8" fill="#555"/><path d="M287.2,13.5C289.5,11 291.5,8 293.3,8.5C295,8.8 296.5,12 298.6,12.3" stroke="#209020" stroke-width="1" fill="none"/><rect x="309" y="0" width="1" height="21" fill="#a0a0a0" shape-rendering="crispEdges"/><rect x="310" y="0" width="1" height="21" fill="#ffffff" shape-rendering="crispEdges"/><path d="M328,13L333.2,17.6" stroke="#b07810" stroke-width="3.2" stroke-linecap="square"/><path d="M328,13L333.2,17.6" stroke="#f0e060" stroke-width="1.6" stroke-linecap="square"/><circle cx="324" cy="9" r="5.3" fill="url(#gMag)" stroke="#3a7cc8" stroke-width="1.1"/><path d="M320.6,9H327.4 M324,5.6V12.4" stroke="#4a88b0" stroke-width="1.9"/><path d="M356.1,13L361.3,17.6" stroke="#b07810" stroke-width="3.2" stroke-linecap="square"/><path d="M356.1,13L361.3,17.6" stroke="#f0e060" stroke-width="1.6" stroke-linecap="square"/><circle cx="352.1" cy="9" r="5.3" fill="url(#gMag)" stroke="#3a7cc8" stroke-width="1.1"/><path d="M349.20000000000005,9H355.0" stroke="#4a80a0" stroke-width="1.4"/><rect x="374" y="3" width="8" height="8" rx="0.8" fill="url(#gGreenQ)"/><rect x="382" y="3" width="8" height="8" rx="0.8" fill="url(#gBlueQ)"/><rect x="374" y="11" width="8" height="8" rx="0.8" fill="url(#gBlueQ)"/><rect x="382" y="11" width="8" height="8" rx="0.8" fill="url(#gGreenQ)"/><path d="M375.2,6.4H380.8V10.0H379.59999999999997V9.2H376.4V10.0H375.2Z" fill="#ffffff"/><path d="M383.2,6.4H388.8V10.0H387.59999999999997V9.2H384.4V10.0H383.2Z" fill="#ffffff"/><path d="M375.2,14.4H380.8V18.0H379.59999999999997V17.2H376.4V18.0H375.2Z" fill="#ffffff"/><path d="M383.2,14.4H388.8V18.0H387.59999999999997V17.2H384.4V18.0H383.2Z" fill="#ffffff"/><rect x="399" y="0" width="1" height="21" fill="#a0a0a0" shape-rendering="crispEdges"/><rect x="400" y="0" width="1" height="21" fill="#ffffff" shape-rendering="crispEdges"/><rect x="404" y="0" width="1" height="21" fill="#a0a0a0" shape-rendering="crispEdges"/><rect x="405" y="0" width="1" height="21" fill="#ffffff" shape-rendering="crispEdges"/><rect x="405" y="0" width="24" height="21" fill="#f7f7f7" shape-rendering="crispEdges"/><path d="M412.5,5.2V18.8 M410.2,16.5H423.5" stroke="#555" stroke-width="1.1" fill="none"/><path d="M410.9,7.2L412.5,5.2L414.1,7.2Z M422,14.9L424,16.5L422,18.1Z" stroke="#555" stroke-width="0.8" fill="#555"/><polygon points="417.4,7.2 421,10.4 417.4,13.7" fill="#60e060" stroke="#10a010" stroke-width="1"/><rect x="432" y="0" width="1" height="21" fill="#a0a0a0" shape-rendering="crispEdges"/><rect x="433" y="0" width="1" height="21" fill="#ffffff" shape-rendering="crispEdges"/><rect x="433" y="0" width="24" height="21" fill="#f7f7f7" shape-rendering="crispEdges"/><path d="M440.4,5.2V18.8 M438,16.5H451.5" stroke="#555" stroke-width="1.1" fill="none"/><path d="M438.79999999999995,7.2L440.4,5.2L442.0,7.2Z M450,14.9L452,16.5L450,18.1Z" stroke="#555" stroke-width="0.8" fill="#555"/><path d="M446.5,5.3V14.6" stroke="#1070a8" stroke-width="1.2"/><path d="M448,10.4H452" stroke="#c04010" stroke-width="1.2"/><polygon points="447.4,10.4 450,8.4 450,12.4" fill="#f06010" stroke="#a03000" stroke-width="0.5"/><rect x="461" y="0" width="1" height="21" fill="#a0a0a0" shape-rendering="crispEdges"/><rect x="462" y="0" width="1" height="21" fill="#ffffff" shape-rendering="crispEdges"/><path d="M471.5,3.4H479.8L482.6,6.2V16.2H471.5Z" fill="#fdfdfd" stroke="#8a8a8a" stroke-width="0.8"/><path d="M479.8,3.4V6.2H482.6" fill="none" stroke="#8a8a8a" stroke-width="0.6"/><path d="M476.6,6Q474.5,6 474.5,9V13.5 M473.5,9.2H476" stroke="#505040" stroke-width="0.7" fill="none"/><path d="M475.6,13.5H486.6V16.8H475.6Z M479.2,9.4H482.8V20.6H479.2Z" fill="#008000" stroke="#008000" stroke-width="0.9"/><path d="M476.2,14.1H486V16.2H476.2Z M479.8,10H482.2V20H479.8Z" fill="url(#gPlus)"/><polygon points="492.7,10.3 498.2,10.3 495.45,13.100000000000001" fill="#000"/><circle cx="517.1" cy="10.9" r="6.8" fill="#fafafa" stroke="url(#gClock)" stroke-width="2.6"/><circle cx="517.1" cy="10.9" r="8.1" fill="none" stroke="#0a4a98" stroke-width="0.5"/><circle cx="521.70" cy="10.90" r="0.35" fill="#909090"/><circle cx="521.08" cy="13.20" r="0.35" fill="#909090"/><circle cx="519.40" cy="14.88" r="0.35" fill="#909090"/><circle cx="517.10" cy="15.50" r="0.35" fill="#909090"/><circle cx="514.80" cy="14.88" r="0.35" fill="#909090"/><circle cx="513.12" cy="13.20" r="0.35" fill="#909090"/><circle cx="512.50" cy="10.90" r="0.35" fill="#909090"/><circle cx="513.12" cy="8.60" r="0.35" fill="#909090"/><circle cx="514.80" cy="6.92" r="0.35" fill="#909090"/><circle cx="517.10" cy="6.30" r="0.35" fill="#909090"/><circle cx="519.40" cy="6.92" r="0.35" fill="#909090"/><circle cx="521.08" cy="8.60" r="0.35" fill="#909090"/><path d="M516.8,7.4V11H520" stroke="#202020" stroke-width="1.1" fill="none"/><polygon points="532,10.3 537.5,10.3 534.75,13.100000000000001" fill="#000"/><rect x="548.6" y="4.2" width="15" height="13.6" rx="0.8" fill="#2f6db4"/><rect x="549.6" y="5" width="13" height="1.6" fill="#a8d0f8"/><rect x="549.6" y="7" width="13" height="4.7" fill="#fff"/><rect x="549.6" y="12.8" width="13" height="4" fill="#fff"/><path d="M550.3,10.5L552,10.5L553.4,9.4L555,9.4L555.8,8.4L557,9.6L559,9.6L561.3,8.4" stroke="#a02010" stroke-width="1.3" fill="none" stroke-dasharray="1.8,0.4"/><path d="M551.1,15.6L552.5,15.6L553.8,14.4L555,15.6L556.4,15.6L558.9,13.3L561.6,15.6" stroke="#108010" stroke-width="1.3" fill="none" stroke-dasharray="1.8,0.4"/><polygon points="570.8,10.3 576.3,10.3 573.55,13.100000000000001" fill="#000"/><rect x="582" y="0" width="1" height="21" fill="#a0a0a0" shape-rendering="crispEdges"/><rect x="583" y="0" width="1" height="21" fill="#ffffff" shape-rendering="crispEdges"/><rect x="586" y="1" width="3" height="1" fill="#868686" shape-rendering="crispEdges"/><rect x="586" y="3" width="3" height="1" fill="#868686" shape-rendering="crispEdges"/><rect x="586" y="5" width="3" height="1" fill="#868686" shape-rendering="crispEdges"/><rect x="586" y="7" width="3" height="1" fill="#868686" shape-rendering="crispEdges"/><rect x="586" y="9" width="3" height="1" fill="#868686" shape-rendering="crispEdges"/><rect x="586" y="11" width="3" height="1" fill="#868686" shape-rendering="crispEdges"/><rect x="586" y="13" width="3" height="1" fill="#868686" shape-rendering="crispEdges"/><rect x="586" y="15" width="3" height="1" fill="#868686" shape-rendering="crispEdges"/><rect x="586" y="17" width="3" height="1" fill="#868686" shape-rendering="crispEdges"/><rect x="586" y="19" width="3" height="1" fill="#868686" shape-rendering="crispEdges"/><rect x="592" y="0" width="1" height="21" fill="#a0a0a0" shape-rendering="crispEdges"/><rect x="593" y="0" width="1" height="21" fill="#ffffff" shape-rendering="crispEdges"/><rect x="593" y="0" width="24" height="21" fill="#f7f7f7" shape-rendering="crispEdges"/><polygon points="600.2,3.9 608.2,11.6 604.6,11.9 606.9,17 605,18.1 602.8,12.9 600.2,15" fill="#484848"/><path d="M625.2,11.5H630.8 M634.2,11.5H640 M632.5,4.1V9.8 M632.5,13.3V18.8" stroke="#404040" stroke-width="1.2"/><rect x="649" y="0" width="1" height="21" fill="#a0a0a0" shape-rendering="crispEdges"/><rect x="650" y="0" width="1" height="21" fill="#ffffff" shape-rendering="crispEdges"/><path d="M666.5,5V18" stroke="#505050" stroke-width="1.1"/><path d="M689,11.5H701" stroke="#505050" stroke-width="1.1"/><path d="M717,18L729,6" stroke="#606060" stroke-width="1"/><path d="M742.8,12.5L750.6,5.1 M748.3,17.8L756.9,9.6" stroke="#606060" stroke-width="0.8" fill="none"/><path d="M745.4,17.6L745.8,10.6 M744.2,11.5L747,10.2 M748.7,14.5L751.8,7.4 M747.6,10L750.4,9 M754.5,3.1L755.3,9.8 M753.4,7L756.4,5.6 M743.6,16.5L746.5,15.2" stroke="#404040" stroke-width="1.1" fill="none"/><text x="754" y="19.9" font-family='"Liberation Sans", sans-serif' font-size="6.8" font-weight="bold" fill="#404040">E</text><path d="M772,4.5H785" stroke="#505050" stroke-width="0.9" stroke-dasharray="1,1" fill="none"/><path d="M772,7.4H785" stroke="#505050" stroke-width="0.9" stroke-dasharray="1,1" fill="none"/><path d="M772,11.5H785" stroke="#505050" stroke-width="0.9" stroke-dasharray="1,1" fill="none"/><path d="M772,15.6H781" stroke="#505050" stroke-width="0.9" stroke-dasharray="1,1" fill="none"/><text x="781.8" y="19.9" font-family='"Liberation Sans", sans-serif' font-size="6.8" font-weight="bold" fill="#404040">F</text><text x="802.6" y="16" font-family='"Liberation Sans", sans-serif' font-size="12.5" fill="#505050" textLength="7.8" lengthAdjust="spacingAndGlyphs">A</text><rect x="829.4" y="5.4" width="11.2" height="12" fill="none" stroke="#505050" stroke-width="0.9" stroke-dasharray="1,1"/><rect x="828.2" y="4" width="1.6" height="1.4" fill="#505050"/><path d="M831.1,8.6H838.9 M835,8.6V15.7" stroke="#505050" stroke-width="1.5"/><path d="M855.8,8.6L859.4,5.1L863,8.6L861.8,9.8H857Z M864.4,13.9H868.8L870.2,14.9L866.6,18.2L863,14.9Z" fill="#484848"/><path d="M858.3,13.1L860.6,14.9L864.9,9.4" stroke="#484848" stroke-width="1.2" fill="none"/><polygon points="876.9,10.3 882.3,10.3 879.6,13.100000000000001" fill="#000"/><rect x="888" y="0" width="1" height="21" fill="#a0a0a0" shape-rendering="crispEdges"/><rect x="889" y="0" width="1" height="21" fill="#ffffff" shape-rendering="crispEdges"/><rect x="892" y="1" width="3" height="1" fill="#868686" shape-rendering="crispEdges"/><rect x="892" y="3" width="3" height="1" fill="#868686" shape-rendering="crispEdges"/><rect x="892" y="5" width="3" height="1" fill="#868686" shape-rendering="crispEdges"/><rect x="892" y="7" width="3" height="1" fill="#868686" shape-rendering="crispEdges"/><rect x="892" y="9" width="3" height="1" fill="#868686" shape-rendering="crispEdges"/><rect x="892" y="11" width="3" height="1" fill="#868686" shape-rendering="crispEdges"/><rect x="892" y="13" width="3" height="1" fill="#868686" shape-rendering="crispEdges"/><rect x="892" y="15" width="3" height="1" fill="#868686" shape-rendering="crispEdges"/><rect x="892" y="17" width="3" height="1" fill="#868686" shape-rendering="crispEdges"/><rect x="892" y="19" width="3" height="1" fill="#868686" shape-rendering="crispEdges"/><rect x="1038" y="0" width="1" height="21" fill="#a0a0a0" shape-rendering="crispEdges"/><rect x="1039" y="0" width="1" height="21" fill="#ffffff" shape-rendering="crispEdges"/><rect x="1039" y="0" width="24" height="21" fill="#f7f7f7" shape-rendering="crispEdges"/><text x="904" y="15.2" font-family='"Liberation Sans", sans-serif' font-size="10" fill="#2a2a2a" textLength="12" lengthAdjust="spacingAndGlyphs">M1</text><text x="932" y="15.2" font-family='"Liberation Sans", sans-serif' font-size="10" fill="#2a2a2a" textLength="12.5" lengthAdjust="spacingAndGlyphs">M5</text><text x="957.5" y="15.2" font-family='"Liberation Sans", sans-serif' font-size="10" fill="#2a2a2a" textLength="18" lengthAdjust="spacingAndGlyphs">M15</text><text x="985.5" y="15.2" font-family='"Liberation Sans", sans-serif' font-size="10" fill="#2a2a2a" textLength="17.5" lengthAdjust="spacingAndGlyphs">M30</text><text x="1016.5" y="15.2" font-family='"Liberation Sans", sans-serif' font-size="10" fill="#2a2a2a" textLength="12" lengthAdjust="spacingAndGlyphs">H1</text><text x="1043.5" y="15.2" font-family='"Liberation Sans", sans-serif' font-size="10" fill="#2a2a2a" textLength="12.5" lengthAdjust="spacingAndGlyphs">H4</text><text x="1073" y="15.2" font-family='"Liberation Sans", sans-serif' font-size="10" fill="#2a2a2a" textLength="11" lengthAdjust="spacingAndGlyphs">D1</text><text x="1100" y="15.2" font-family='"Liberation Sans", sans-serif' font-size="10" fill="#2a2a2a" textLength="14" lengthAdjust="spacingAndGlyphs">W1</text><text x="1126.5" y="15.2" font-family='"Liberation Sans", sans-serif' font-size="10" fill="#2a2a2a" textLength="14.5" lengthAdjust="spacingAndGlyphs">MN</text><rect x="1149" y="0" width="1" height="21" fill="#a0a0a0" shape-rendering="crispEdges"/><rect x="1150" y="0" width="1" height="21" fill="#ffffff" shape-rendering="crispEdges"/><circle cx="1619.6" cy="8.4" r="3.9" fill="#fff" stroke="#2a64d0" stroke-width="1.3"/><path d="M1616.5,11.5L1612.5,15.5" stroke="#2a64d0" stroke-width="2"/><path d="M1641.5,8.5Q1636.5,9 1636.5,13Q1637,17 1640.5,17.2L1639.8,19.5L1643,17.3Q1648,17.3 1648,13Q1647.5,8.5 1641.5,8.5Z" fill="#e4e6f0" stroke="#a0a0a0" stroke-width="0.8"/><circle cx="1650.5" cy="8.3" r="8.2" fill="url(#gBadge)"/><text x="1646.6" y="12.9" font-family='"Liberation Sans", sans-serif' font-size="11.5" font-weight="bold" fill="#fff">1</text></g>
</svg>
</body></html>
